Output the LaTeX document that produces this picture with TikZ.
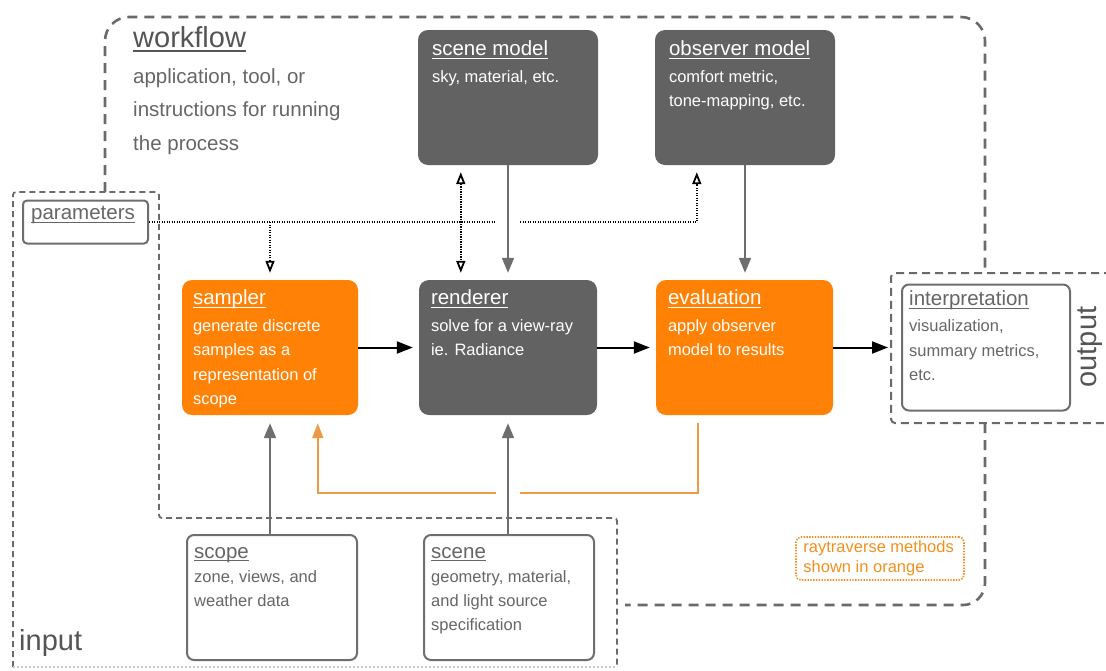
\documentclass[tikz,border=0pt]{standalone}
\usepackage{fontspec}
\setmainfont{Liberation Sans}
\usetikzlibrary{arrows.meta,calc}
\definecolor{boxgray}{HTML}{626262}
\definecolor{rtorange}{HTML}{FF8207}
\definecolor{fborange}{HTML}{EC9A45}
\definecolor{linegray}{HTML}{6E6E6E}
\definecolor{txtgray}{HTML}{666666}
\definecolor{headgray}{HTML}{555555}
\definecolor{dashgray}{HTML}{6A6A6A}
\definecolor{faintgray}{HTML}{C8C8C8}
\definecolor{notecol}{HTML}{F0901E}
\newcommand\myul[1]{\setbox0\hbox{#1}\rlap{\rule[-0.17em]{\wd0}{0.065em}}\box0}
\tikzset{opentip/.tip={Triangle[open, length=12pt, width=9pt, line width=1.8pt]}}
\begin{document}
\begin{tikzpicture}[x=1pt,y=-1pt,
  fbox/.style={draw=none, rounded corners=10pt, inner sep=0pt},
  gbox/.style={fbox, fill=boxgray},
  obox/.style={fbox, fill=rtorange},
  wbox/.style={draw=linegray, line width=2pt, fill=white, rounded corners=7pt, inner sep=0pt},
  notebox/.style={draw=notecol, line width=1.6pt, dash pattern=on 1.4pt off 1.4pt, rounded corners=5pt, inner sep=0pt},
  ttl/.style={inner sep=0pt, anchor=base west, font=\fontsize{20.5}{24}\selectfont},
  bdy/.style={inner sep=0pt, anchor=north west, align=left, font=\fontsize{16.5}{24.5}\selectfont},
  wfdash/.style={draw=dashgray, line width=2.6pt, dash pattern=on 10pt off 7pt},
  indash/.style={draw=dashgray, line width=1.8pt, dash pattern=on 6pt off 4pt},
  outdash/.style={draw=dashgray, line width=2pt, dash pattern=on 8pt off 5pt},
  blk/.style={draw=black, line width=2pt, -{Triangle[length=16pt,width=12pt]}},
  garrow/.style={draw=linegray, line width=2pt, -{Triangle[length=15pt,width=12pt]}},
  oline/.style={draw=fborange, line width=2pt},
  dots/.style={draw=black, line width=1.9pt, dash pattern=on 1.3pt off 1.2pt}
]
\useasboundingbox (0,0) rectangle (1106,670);

% regions
\draw[wfdash, rounded corners=24pt] (105,192) -- (105,17) -- (985,17) -- (985,273);
\draw[wfdash, rounded corners=22pt] (985,423) -- (985,605) -- (625,605);
\draw[indash, rounded corners=3pt] (13,667) -- (13,192) -- (159,192) -- (159,518) -- (617,518) -- (617,667);
\draw[draw=faintgray, line width=1.6pt, dash pattern=on 2pt off 2pt] (13,667) -- (617,667);
\draw[outdash, rounded corners=4pt] (1112,273) -- (891,273) -- (891,423) -- (1112,423);

% region labels
\node[inner sep=0pt, anchor=base west, text=headgray, font=\fontsize{29}{30}\selectfont] (wfT) at (133,47) {\myul{workflow}};
\node[inner sep=0pt, anchor=north west, align=left, text=txtgray, font=\fontsize{20.5}{33.5}\selectfont] (wfB) at (133,68) {\rule{0pt}{15pt}application, tool, or\\instructions for running\\the process};
\node[inner sep=0pt, anchor=base west, text=headgray, font=\fontsize{29}{30}\selectfont] (inT) at (19,650) {input};
\node[inner sep=0pt, rotate=90, text=headgray, font=\fontsize{29}{30}\selectfont] (outT) at (1090,347) {output};

% boxes
\node[gbox, minimum width=180pt, minimum height=135pt] (scenemodel) at (508,97.5) {};
\node[gbox, minimum width=180pt, minimum height=135pt] (obsmodel) at (745,97.5) {};
\node[obox, minimum width=176pt, minimum height=135pt] (sampler) at (270,347.5) {};
\node[gbox, minimum width=178pt, minimum height=135pt] (renderer) at (508,347.5) {};
\node[obox, minimum width=177pt, minimum height=135pt] (evaluation) at (744.5,347.5) {};
\node[wbox, minimum width=168pt, minimum height=126pt] (interp) at (986,347.5) {};
\node[wbox, rounded corners=4pt, minimum width=125pt, minimum height=43pt] (params) at (85.5,222) {};
\node[wbox, minimum width=170pt, minimum height=125pt] (scope) at (272,597.5) {};
\node[wbox, minimum width=170pt, minimum height=125pt] (scene) at (509,597.5) {};
\node[notebox, minimum width=168pt, minimum height=43pt] (note) at (880,558.5) {};

% box texts
\node[ttl, text=white] (scenemodelT) at ($(scenemodel.north west)+(14,26)$) {\myul{scene model}};
\node[bdy, text=white] (scenemodelB) at ($(scenemodel.north west)+(14,39)$) {\rule{0pt}{13pt}sky, material, etc.};
\node[ttl, text=white] (obsmodelT) at ($(obsmodel.north west)+(14,26)$) {\myul{observer model}};
\node[bdy, text=white] (obsmodelB) at ($(obsmodel.north west)+(14,39)$) {\rule{0pt}{13pt}comfort metric,\\tone-mapping, etc.};
\node[ttl, text=white] (samplerT) at ($(sampler.north west)+(11,25)$) {\myul{sampler}};
\node[bdy, text=white] (samplerB) at ($(sampler.north west)+(11,38)$) {\rule{0pt}{13pt}generate discrete\\samples as a\\representation of\\scope};
\node[ttl, text=white] (rendererT) at ($(renderer.north west)+(12,25)$) {\myul{renderer}};
\node[bdy, text=white] (rendererB) at ($(renderer.north west)+(12,38)$) {\rule{0pt}{13pt}solve for a view-ray\\ie. Radiance};
\node[ttl, text=white] (evaluationT) at ($(evaluation.north west)+(12,25)$) {\myul{evaluation}};
\node[bdy, text=white] (evaluationB) at ($(evaluation.north west)+(12,38)$) {\rule{0pt}{13pt}apply observer\\model to results};
\node[ttl, text=txtgray] (interpT) at ($(interp.north west)+(8,22)$) {\myul{interpretation}};
\node[bdy, text=txtgray] (interpB) at ($(interp.north west)+(8,35)$) {\rule{0pt}{13pt}visualization,\\summary metrics,\\etc.};
\node[ttl, text=txtgray] (paramsT) at ($(params.north west)+(9,20)$) {\myul{parameters}};
\node[ttl, text=txtgray] (scopeT) at ($(scope.north west)+(8,24)$) {\myul{scope}};
\node[bdy, text=txtgray, font=\fontsize{16.5}{24}\selectfont] (scopeB) at ($(scope.north west)+(8,35)$) {\rule{0pt}{13pt}zone, views, and\\weather data};
\node[ttl, text=txtgray] (sceneT) at ($(scene.north west)+(8,24)$) {\myul{scene}};
\node[bdy, text=txtgray, font=\fontsize{16.5}{24}\selectfont] (sceneB) at ($(scene.north west)+(8,35)$) {\rule{0pt}{13pt}geometry, material,\\and light source\\specification};
\node[bdy, text=notecol, font=\fontsize{16.5}{20.5}\selectfont] (noteB) at ($(note.north west)+(8,3)$) {\rule{0pt}{13pt}raytraverse methods\\shown in orange};

% main flow
\draw[blk, shorten >=6pt] (sampler.east) -- (renderer.west);
\draw[blk, shorten >=6pt] (renderer.east) -- (evaluation.west);
\draw[blk, shorten >=13pt] (evaluation.east) -- (evaluation.east -| interp.west);

% models into boxes
\draw[garrow, shorten >=7pt] (scenemodel.south) -- (scenemodel.south |- renderer.north);
\draw[garrow, shorten >=7pt] (obsmodel.south) -- (obsmodel.south |- evaluation.north);
% inputs
\draw[garrow, shorten >=8pt] (sampler.south |- scope.north) -- (sampler.south);
\draw[garrow, shorten >=8pt] (renderer.south |- scene.north) -- (renderer.south);

% orange feedback
\coordinate (fbS) at ($(evaluation.south west)+(42,0)$);
\coordinate (fbA) at (520,493);
\coordinate (fbB) at (496,493);
\coordinate (fbE) at ($(sampler.south west)+(136,0)$);
\draw[oline, shorten <=8pt] (fbS) |- (fbA);
\draw[oline, -{Triangle[length=15pt,width=11pt]}, shorten >=8pt] (fbB) -| (fbE);

% parameters dotted
\coordinate (pL) at (496,222);
\coordinate (pR) at (520,222);
\coordinate (pObs) at ($(obsmodel.south west)+(42,0)$);
\draw[dots] (params.east) -- (pL);
\draw[dots, -{opentip}, shorten >=7pt] (pR) -| (pObs);
\draw[dots, -{opentip}, shorten >=7pt] (sampler.north |- params.east) -- (sampler.north);
\draw[dots, {opentip}-{opentip}, shorten <=7pt, shorten >=7pt] ($(scenemodel.south west)+(43,0)$) -- ($(renderer.north west)+(42,0)$);
\end{tikzpicture}
\end{document}
